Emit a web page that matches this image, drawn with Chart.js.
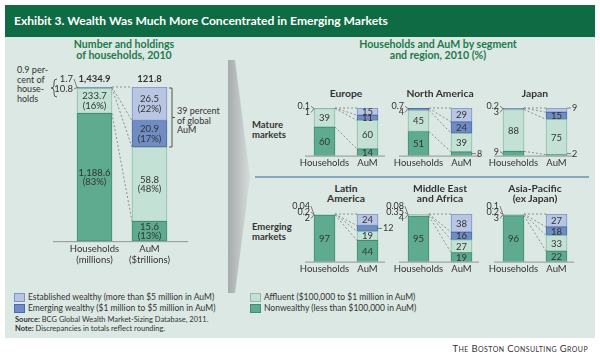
<!DOCTYPE html>
<html><head><meta charset="utf-8">
<script src="https://cdn.jsdelivr.net/npm/chart.js"></script>
<style>
html,body{margin:0;padding:0;background:#fff;}
#root{position:relative;width:600px;height:357px;overflow:hidden;font-family:Lato,'Open Sans',sans-serif;color:#333;}
.abs{position:absolute;}
#header{left:5px;top:5px;width:590px;height:32px;background:#0f6b43;}
#title{left:14px;top:14px;color:#fff;font-weight:700;font-size:12.1px;line-height:14px;white-space:nowrap;}
#panel{left:5px;top:37px;width:590px;height:301px;background:#dce8e3;}
.sect{color:#1c7a4c;font-weight:700;font-size:10.6px;line-height:11px;text-align:center;width:220px;}
.rowlab{font-weight:700;font-size:9.5px;line-height:9.5px;color:#333;}
.rtitle{font-weight:700;font-size:10.3px;line-height:10.5px;text-align:center;width:120px;color:#333;}
.ann{font-size:9px;line-height:9.5px;color:#333;white-space:nowrap;}
.leg{font-size:8.5px;line-height:12px;white-space:nowrap;color:#333;}
.sw{width:9px;height:7px;border:1px solid;}
.src{font-size:7.5px;line-height:9px;white-space:nowrap;color:#333;}
#bcg{right:12px;top:343px;font-size:9.5px;font-variant:small-caps;letter-spacing:0.4px;color:#333;white-space:nowrap;}
canvas{position:absolute;}
</style></head>
<body><div id="root">
<div id="header" class="abs"></div>
<div id="title" class="abs">Exhibit 3. Wealth Was Much More Concentrated in Emerging Markets</div>
<div id="panel" class="abs"></div>
<svg class="abs" style="left:0;top:0" width="600" height="357">
<defs><linearGradient id="ag" x1="0" x2="1" y1="0" y2="0"><stop offset="0" stop-color="#a6abad"/><stop offset="1" stop-color="#d6dbda"/></linearGradient></defs>
<polygon points="228,60 235,60 250,177 235,293 228,293" fill="url(#ag)"/>
</svg>
<div class="abs sect" style="left:14px;top:38.5px">Number and holdings<br>of households, 2010</div>
<div class="abs sect" style="left:328px;top:38.5px">Households and AuM by segment<br>and region, 2010 (%)</div>
<div class="abs rowlab" style="left:252px;top:120px">Mature<br>markets</div>
<div class="abs rowlab" style="left:252px;top:222px">Emerging<br>markets</div>
<div class="abs" style="left:255px;top:176px;width:334px;height:2px;background:#86a6bb"></div>
<div class="abs ann" style="left:17px;top:65px">0.9 per-<br>cent of<br>house-<br>holds</div>
<div class="abs ann" style="left:177px;top:106px">39 percent<br>of global<br>AuM</div>
<div id="legend"></div>
<div class="abs src" style="left:15px;top:314.5px"><b>Source:</b> BCG Global Wealth Market-Sizing Database, 2011.</div>
<div class="abs src" style="left:15px;top:323.5px"><b>Note:</b> Discrepancies in totals reflect rounding.</div>
<div id="bcg" class="abs">The Boston Consulting Group</div>
</div>
<script>
// ---- data ----
const segmentNames = ['Established wealthy (more than $5 million in AuM)','Emerging wealthy ($1 million to $5 million in AuM)','Affluent ($100,000 to $1 million in AuM)','Nonwealthy (less than $100,000 in AuM)'];
const globalCategories = [['Households','(millions)'],['AuM','($trillions)']];
const globalHouseholds = [1.7, 10.8, 233.7, 1188.6];
const globalAuM = [26.5, 20.9, 58.8, 15.6];
const globalTotals = [1434.9, 121.8];
const globalHouseholdsPct = [null, null, 16, 83];
const globalAuMPct = [22, 17, 48, 13];
const regionNames = [['Europe'],['North America'],['Japan'],['Latin','America'],['Middle East','and Africa'],['Asia-Pacific','(ex Japan)']];
const regionCategories = ['Households','AuM'];
const regionHouseholds = [[0.1,1,39,60],[0.7,4,45,51],[0.2,3,88,9],[0.04,0.2,2,97],[0.08,0.35,4,95],[0.1,0.2,3,96]];
const regionAuM = [[15,11,60,14],[29,24,39,8],[9,15,75,2],[24,12,19,44],[38,16,27,19],[27,18,33,22]];

// ---- style ----
const fills = ['#b8c5e3','#6f8cc4','#c3e1d4','#5eab8f'];
const strokes = ['#7d93c6','#4d6aa6','#8dbda9','#3f8e72'];
const FONT = 'Lato';
const aumOutsideExtra = [[],[],[],[1],[],[]];

const root = document.getElementById('root');
// legend
const legendPos = [[14,291],[14,302],[250,291],[250,302]];
segmentNames.forEach((n,i)=>{
  const p = legendPos[i];
  const sw = document.createElement('div'); sw.className='abs sw';
  sw.style.left=p[0]+'px'; sw.style.top=(p[1]+2)+'px'; sw.style.background=fills[i]; sw.style.borderColor=strokes[i];
  root.appendChild(sw);
  const t = document.createElement('div'); t.className='abs leg'; t.textContent=n;
  t.style.left=(p[0]+14)+'px'; t.style.top=p[1]+'px'; root.appendChild(t);
});

function sum(a){return a.reduce((x,y)=>x+y,0);}
function el(chart,s,j){return chart.getDatasetMeta(3-s).data[j];}
function line(ctx,x1,y1,x2,y2){ctx.beginPath();ctx.moveTo(x1,y1);ctx.lineTo(x2,y2);ctx.stroke();}
function connectors(chart){
  const ctx=chart.ctx; ctx.save(); ctx.strokeStyle='#8a908e'; ctx.setLineDash([2,2]); ctx.lineWidth=1;
  for(let s=0;s<4;s++){const a=el(chart,s,0), b=el(chart,s,1);
    line(ctx,a.x+a.width/2,a.y,b.x-b.width/2,b.y);}
  ctx.restore();
}
function baseline(chart, ext1, ext2){
  const ctx=chart.ctx, a=el(chart,3,0), b=el(chart,3,1);
  ctx.save(); ctx.strokeStyle='#8d9692'; ctx.lineWidth=1;
  line(ctx,a.x-a.width/2-ext1,a.base+0.5,b.x+b.width/2+ext2,a.base+0.5); ctx.restore();
}

function buildChart(canvas, cats, hh, aum, barW, pad, fontCfg, drawFn){
  const hs=sum(hh), as=sum(aum);
  const datasets=[3,2,1,0].map(i=>({label:segmentNames[i],data:[hh[i]/hs*100, aum[i]/as*100],
    backgroundColor:fills[i],borderColor:strokes[i],borderWidth:1,borderSkipped:false,barThickness:barW}));
  return new Chart(canvas,{type:'bar',data:{labels:cats,datasets},
    options:{responsive:false,animation:false,events:[],
      layout:{padding:pad},
      plugins:{legend:{display:false},tooltip:{enabled:false},title:{display:false}},
      scales:{x:{stacked:true,grid:{display:false,drawTicks:false},border:{display:false},
                 ticks:{font:fontCfg,color:'#333',padding:2,maxRotation:0,autoSkip:false}},
              y:{stacked:true,display:false,min:0,max:100}}},
    plugins:[{id:'ann',afterDatasetsDraw(c){drawFn(c);}}]});
}
function mkCanvas(l,t,w,h){const c=document.createElement('canvas');c.width=w;c.height=h;c.style.left=l+'px';c.style.top=t+'px';root.appendChild(c);return c;}

// ---- global chart ----
function fmtBig(v){return v.toLocaleString('en-US',{minimumFractionDigits:1,maximumFractionDigits:1});}
const gc = mkCanvas(7,67,230,200);
buildChart(gc, globalCategories, globalHouseholds, globalAuM, 35, {left:60,right:60,top:20,bottom:0}, {family:FONT,size:9.5,lineHeight:1.15}, function(chart){
  connectors(chart); baseline(chart,24,21);
  const ctx=chart.ctx; ctx.save(); ctx.fillStyle='#333'; ctx.strokeStyle='#666'; ctx.lineWidth=0.8; ctx.textBaseline='middle';
  const vals=[globalHouseholds,globalAuM], pcts=[globalHouseholdsPct,globalAuMPct];
  [0,1].forEach(j=>{const e=el(chart,0,j); ctx.font='bold 9.5px '+FONT; ctx.textAlign='center'; ctx.fillText(fmtBig(globalTotals[j]),e.x,e.y-8);});
  const out=[];
  [0,1].forEach(j=>{for(let s=0;s<4;s++){const e=el(chart,s,j); const p=pcts[j][s];
    if(p!=null){ctx.font='9.5px '+FONT; ctx.textAlign='center'; const cy=(e.y+e.base)/2;
      ctx.fillText(fmtBig(vals[j][s]),e.x,cy-4.5); ctx.fillText('('+p+'%)',e.x,cy+5);}
    else if(j===0) out.push(s);}});
  const h0=el(chart,0,0), bl=h0.x-h0.width/2, top=h0.y;
  out.forEach((s,k)=>{const y=top+2-(out.length-1-k)*10; ctx.font='9.5px '+FONT; ctx.textAlign='right';
    ctx.fillText(fmtBig(globalHouseholds[s]),bl-4,y); line(ctx,bl-3,y,bl,top+0.5);});
  // braces
  ctx.strokeStyle='#555'; ctx.lineWidth=1;
  const y0=top-8,y1=top+10,mid=(y0+y1)/2,bx=bl-23;
  ctx.beginPath(); ctx.moveTo(bx+3,y0); ctx.quadraticCurveTo(bx,y0,bx,y0+3); ctx.lineTo(bx,mid-3);
  ctx.quadraticCurveTo(bx,mid,bx-3,mid); ctx.quadraticCurveTo(bx,mid,bx,mid+3); ctx.lineTo(bx,y1-3);
  ctx.quadraticCurveTo(bx,y1,bx+3,y1); ctx.stroke();
  const a0=el(chart,0,1), a1=el(chart,1,1), rx=a0.x+a0.width/2+2, t0=a0.y+1, t1=a1.base, m=(t0+t1)/2;
  ctx.beginPath(); ctx.moveTo(rx,t0); ctx.lineTo(rx+3,t0); ctx.lineTo(rx+3,t1); ctx.lineTo(rx,t1);
  ctx.moveTo(rx+3,m); ctx.lineTo(rx+6,m); ctx.stroke();
  ctx.restore();
});

// ---- regional charts ----
const colLeft=[279,373,468], rowTop=[108,214];
function fmt(v){return String(v);}
regionNames.forEach((name,r)=>{
  const col=r%3,row=Math.floor(r/3);
  const cl=colLeft[col], ct=rowTop[row]-14;
  const t=document.createElement('div'); t.className='abs rtitle';
  t.innerHTML=name.join('<br>'); t.style.left=(cl+67-60)+'px';
  t.style.top=(name.length>1?rowTop[row]-31.5:rowTop[row]-20)+'px'; root.appendChild(t);
  const c=mkCanvas(cl,ct,134,77);
  const hh=regionHouseholds[r], aum=regionAuM[r];
  buildChart(c, regionCategories, hh, aum, 21, {left:24,right:24,top:14,bottom:0}, {family:FONT,size:9.5,lineHeight:1.2}, function(chart){
    connectors(chart); baseline(chart,9,7);
    const ctx=chart.ctx; ctx.save(); ctx.fillStyle='#333'; ctx.strokeStyle='#666'; ctx.lineWidth=0.8; ctx.textBaseline='middle';
    const h0=el(chart,0,0), bl=h0.x-h0.width/2, top=h0.y;
    const group=[];
    for(let s=0;s<4;s++){const e=el(chart,s,0), v=hh[s];
      if(v>=10){ctx.font='9.5px '+FONT; ctx.textAlign='center'; ctx.fillText(fmt(v),e.x,(e.y+e.base)/2+0.5);}
      else if(s<3) group.push(s);
      else {ctx.font='9px '+FONT; ctx.textAlign='right'; const y=e.base-4; ctx.fillText(fmt(v),bl-4,y); line(ctx,bl-3,y,bl,e.base-2);}
    }
    group.forEach((s,k)=>{const y=top+4.5-(group.length-1-k)*6.2; ctx.font='9px '+FONT; ctx.textAlign='right';
      ctx.fillText(fmt(hh[s]),bl-4,y); line(ctx,bl-3,y,bl,top+0.5);});
    for(let s=0;s<4;s++){const e=el(chart,s,1), v=aum[s];
      const out=v<10||aumOutsideExtra[r].includes(s);
      if(!out){ctx.font='9.5px '+FONT; ctx.textAlign='center'; ctx.fillText(fmt(v),e.x,(e.y+e.base)/2+0.5);}
      else {const rx=e.x+e.width/2; let y=(e.y+e.base)/2; if(s===0)y=e.y; if(s===3)y=e.base-2;
        ctx.font='9px '+FONT; ctx.textAlign='left'; ctx.fillText(fmt(v),rx+5,y); line(ctx,rx,y,rx+4,y);}
    }
    ctx.restore();
  });
});
</script>
</body></html>
